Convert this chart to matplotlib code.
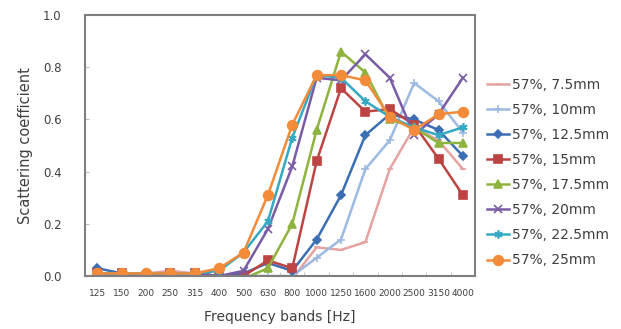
import numpy as np
import matplotlib
matplotlib.use("Agg")
import matplotlib.pyplot as plt

# frequency bands (categorical x axis)
bands = ["125", "150", "200", "250", "315", "400", "500", "630", "800",
         "1000", "1250", "1600", "2000", "2500", "3150", "4000"]

labels = ["57%, 7.5mm", "57%, 10mm", "57%, 12.5mm", "57%, 15mm",
          "57%, 17.5mm", "57%, 20mm", "57%, 22.5mm", "57%, 25mm"]

s_7_5 = [0.01, 0.01, 0.01, 0.02, 0.01, 0.00, 0.00, 0.00, -0.01,
         0.11, 0.10, 0.13, 0.41, 0.57, 0.52, 0.41]
s_10 = [0.01, 0.01, 0.01, 0.01, 0.01, 0.00, 0.00, 0.00, 0.00,
        0.07, 0.14, 0.41, 0.52, 0.74, 0.67, 0.55]
s_12_5 = [0.03, 0.01, 0.01, 0.01, 0.01, 0.00, 0.01, 0.05, 0.02,
          0.14, 0.31, 0.54, 0.62, 0.60, 0.56, 0.46]
s_15 = [0.01, 0.01, 0.00, 0.01, 0.01, 0.00, 0.00, 0.06, 0.03,
        0.44, 0.72, 0.63, 0.64, 0.58, 0.45, 0.31]
s_17_5 = [0.01, 0.01, 0.01, 0.01, 0.01, 0.00, -0.01, 0.03, 0.20,
          0.56, 0.86, 0.78, 0.60, 0.57, 0.51, 0.51]
s_20 = [0.01, 0.01, 0.00, 0.01, 0.01, 0.00, 0.02, 0.18, 0.42,
        0.76, 0.75, 0.85, 0.76, 0.54, 0.62, 0.76]
s_22_5 = [0.01, 0.01, 0.01, 0.01, 0.01, 0.02, 0.09, 0.21, 0.53,
          0.77, 0.76, 0.67, 0.61, 0.57, 0.54, 0.57]
s_25 = [0.01, 0.01, 0.01, 0.01, 0.01, 0.03, 0.09, 0.31, 0.58,
        0.77, 0.77, 0.75, 0.61, 0.56, 0.62, 0.63]

series = [s_7_5, s_10, s_12_5, s_15, s_17_5, s_20, s_22_5, s_25]
colors = ["#E5A3A1", "#9DBAE2", "#3C6EB4", "#BC4543",
          "#8EB43F", "#7A5CA6", "#35A9C3", "#F28B3A"]
markers = ["_", "+", "D", "s", "^", "x", (6, 2, 0), "o"]
msizes = [5, 6, 4, 6, 6, 6, 6, 7]

txt = "#404040"
fig = plt.figure(figsize=(6.21, 3.29), dpi=100)
ax = fig.add_axes([0.137, 0.161, 0.628, 0.793])

x = np.arange(len(bands))
for y, lab, c, m, ms in zip(series, labels, colors, markers, msizes):
    ax.plot(x, y, color=c, lw=1.8, marker=m, ms=ms, mew=1.2,
            label=lab, clip_on=True)

ax.set_xlim(-0.5, len(bands) - 0.5)
ax.set_ylim(0, 1.0)
ax.set_yticks(np.arange(0, 1.01, 0.2))
ax.set_yticklabels(["%.1f" % v for v in np.arange(0, 1.01, 0.2)])
ax.set_xticks(x)
ax.set_xticklabels(bands)
ax.set_xticks(np.arange(-0.5, len(bands), 1), minor=True)
ax.tick_params(axis="x", which="major", length=0, labelsize=6.5,
               colors=txt, pad=9)
ax.tick_params(axis="x", which="minor", direction="in", length=3,
               color="#c0c0c0")
ax.tick_params(axis="y", direction="in", length=3, color="#c0c0c0",
               labelsize=8.5, labelcolor=txt, pad=17)

for sp in ax.spines.values():
    sp.set_color("#7f7f7f")
    sp.set_linewidth(1.5)

ax.set_xlabel("Frequency bands [Hz]", fontsize=10, color=txt, labelpad=9)
ax.set_ylabel("Scattering coefficient", fontsize=10.5, color=txt, labelpad=7)

fig.legend(loc="upper left", bbox_to_anchor=(0.773, 0.785), frameon=False,
           fontsize=10, handlelength=1.6, handletextpad=0.2,
           labelspacing=0.8, borderpad=0, labelcolor=txt)

fig.savefig("out.png", dpi=100)
